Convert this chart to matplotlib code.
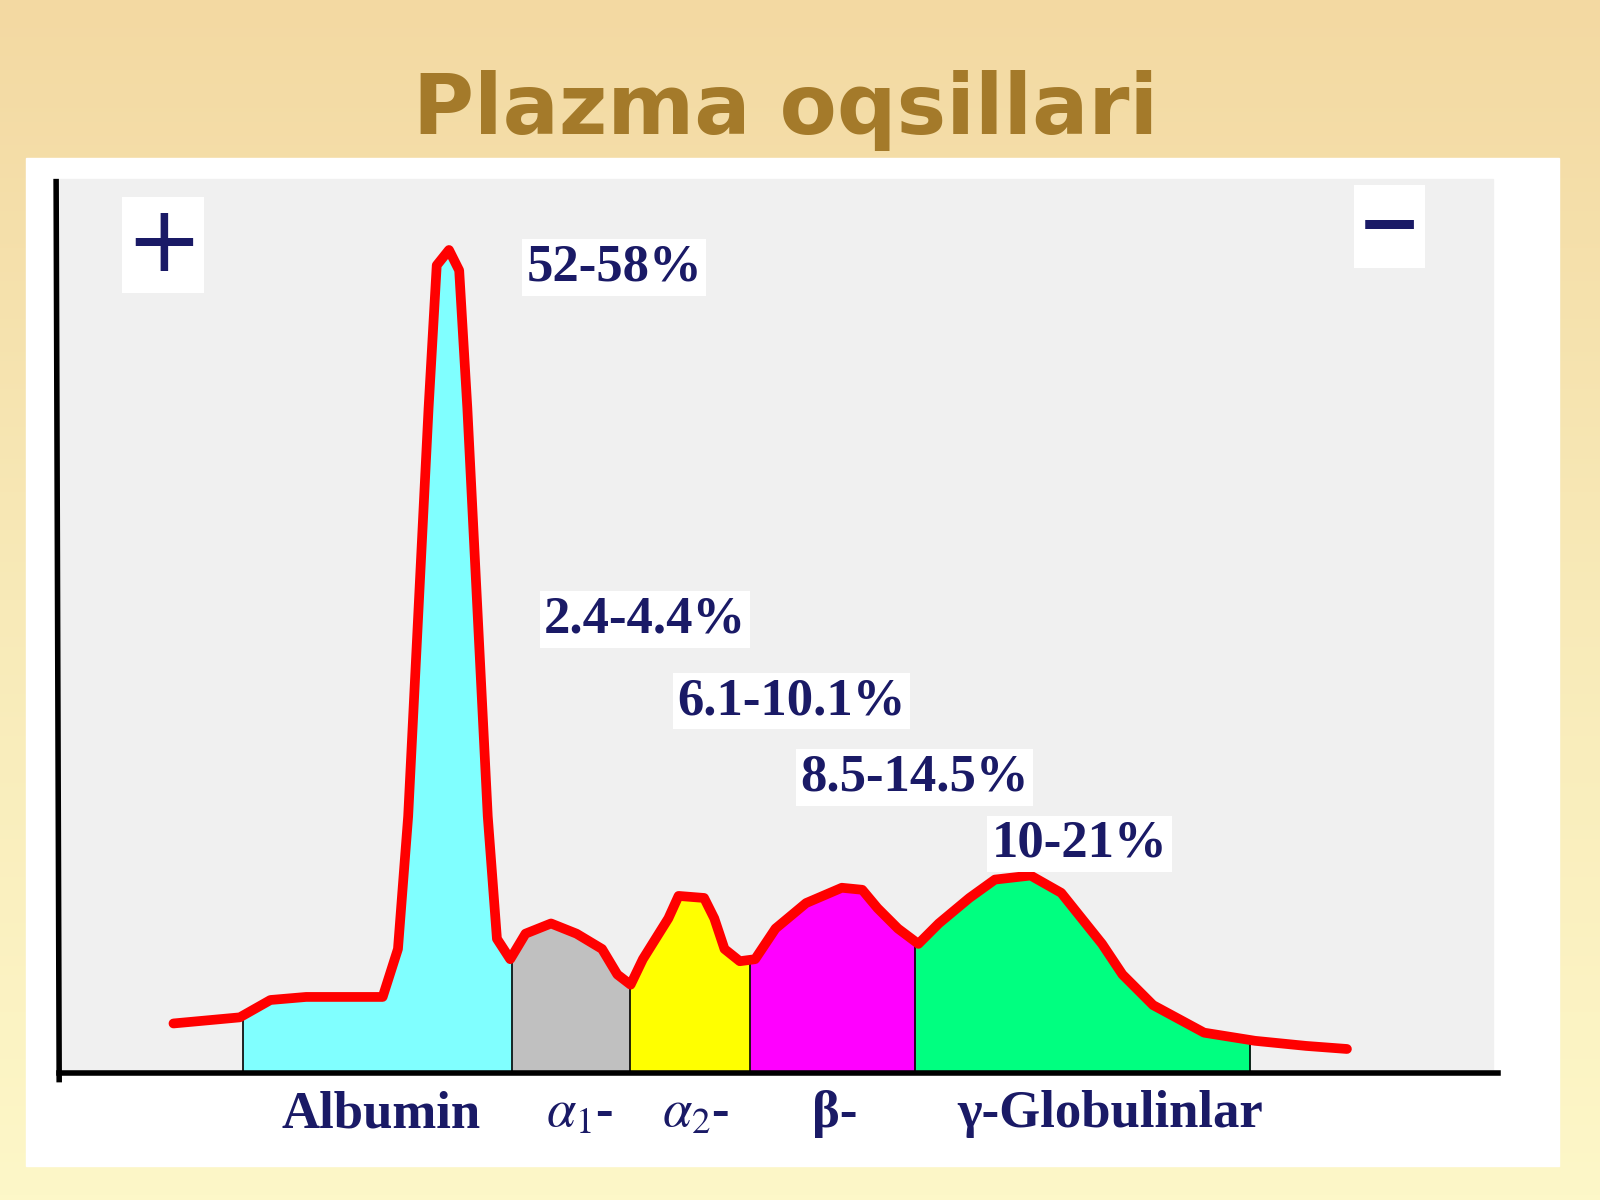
import numpy as np
import matplotlib
matplotlib.use("Agg")
import matplotlib.pyplot as plt
from matplotlib.colors import LinearSegmentedColormap

plt.rcParams['mathtext.fontset'] = 'stix'

# electrophoresis curve (x = migration, y = height in image units)
curve_x = [170, 235, 265, 300, 375, 390, 400, 410, 420, 428, 440, 450, 458, 468, 478, 487,
           500, 515, 540, 565, 590, 605, 618, 630, 655, 665, 690, 700, 710, 725, 740, 760,
           790, 825, 845, 860, 880, 900, 920, 950, 975, 1010, 1040, 1060, 1080, 1100, 1130,
           1180, 1230, 1280, 1320]
curve_y = [1003, 997, 980, 977, 977, 930, 800, 600, 400, 260, 245, 265, 400, 600, 800, 920,
           940, 915, 905, 915, 930, 955, 965, 940, 900, 878, 880, 900, 930, 942, 940, 910,
           885, 870, 872, 890, 910, 925, 905, 880, 862, 858, 875, 900, 925, 955, 985,
           1012, 1020, 1025, 1028]

fraction_edges = [238, 502, 617, 735, 897, 1225]
fraction_colors = ['#80ffff', '#c0c0c0', '#ffff00', '#ff00ff', '#00ff80']

pct_labels = ['52-58%', '2.4-4.4%', '6.1-10.1%', '8.5-14.5%', '10-21%']
pct_pos = [(602, 262), (632, 607), (776, 687), (896, 762), (1058, 827)]

axis_labels = ['Albumin', r'$\alpha_1$-', r'$\alpha_2$-', 'β-', 'γ-Globulinlar']
axis_label_x = [373, 568, 682, 818, 1088]

navy = '#1a1a66'
baseline = 1052

fig = plt.figure(figsize=(16, 12), dpi=100)
ax = fig.add_axes([0, 0, 1, 1])
ax.set_xlim(0, 1568)
ax.set_ylim(1176, 0)
ax.axis('off')

# slide background gradient
cmap = LinearSegmentedColormap.from_list('bg', ['#f3d9a2', '#f8eab8', '#fdf7c8'])
ax.imshow(np.linspace(0, 1, 256).reshape(-1, 1), cmap=cmap, aspect='auto',
          extent=[0, 1568, 1176, 0], zorder=0)

ax.text(770, 108, 'Plazma oqsillari', ha='center', va='center', fontsize=60,
        fontweight='bold', color='#a47a2a', family='DejaVu Sans', zorder=1)

# white panel and grey plot area
ax.add_patch(plt.Rectangle((25, 155), 1503, 988, color='white', zorder=1))
ax.add_patch(plt.Rectangle((58, 175), 1405, 877, color='#f0f0f0', zorder=1))

cx = np.array(curve_x, float)
cy = np.array(curve_y, float)

for i, col in enumerate(fraction_colors):
    x0, x1 = fraction_edges[i], fraction_edges[i + 1]
    xs = np.linspace(x0, x1, 200)
    ys = np.interp(xs, cx, cy)
    ax.fill_between(xs, ys, baseline, color=col, zorder=2, lw=0)
for e in fraction_edges:
    ax.plot([e, e], [np.interp(e, cx, cy), baseline], color='black', lw=1.2, zorder=3)

ax.plot(cx, cy, color='#ff0000', lw=7, solid_capstyle='round', solid_joinstyle='round', zorder=4)

# axes lines
ax.plot([55, 58], [178, 1058], color='black', lw=4, zorder=5)
ax.plot([58, 1468], [baseline, baseline], color='black', lw=4, zorder=5)

box = dict(facecolor='white', edgecolor='none', pad=3)
for t, (x, y) in zip(pct_labels, pct_pos):
    ax.text(x, y, t, ha='center', va='center', fontsize=38, fontweight='bold',
            color=navy, family='Liberation Serif', bbox=box, zorder=6)

ax.text(160, 240, '+', ha='center', va='center', fontsize=66, color=navy,
        family='DejaVu Sans', bbox=dict(facecolor='white', edgecolor='none', pad=2), zorder=6)
ax.text(1362, 222, '−', ha='center', va='center', fontsize=56, fontweight='bold', color=navy,
        family='DejaVu Sans', bbox=dict(facecolor='white', edgecolor='none', pad=2), zorder=6)

for t, x in zip(axis_labels, axis_label_x):
    ax.text(x, 1092, t, ha='center', va='center', fontsize=38, fontweight='bold',
            color=navy, family='Liberation Serif', zorder=6)

fig.savefig('out.png', dpi=100)
